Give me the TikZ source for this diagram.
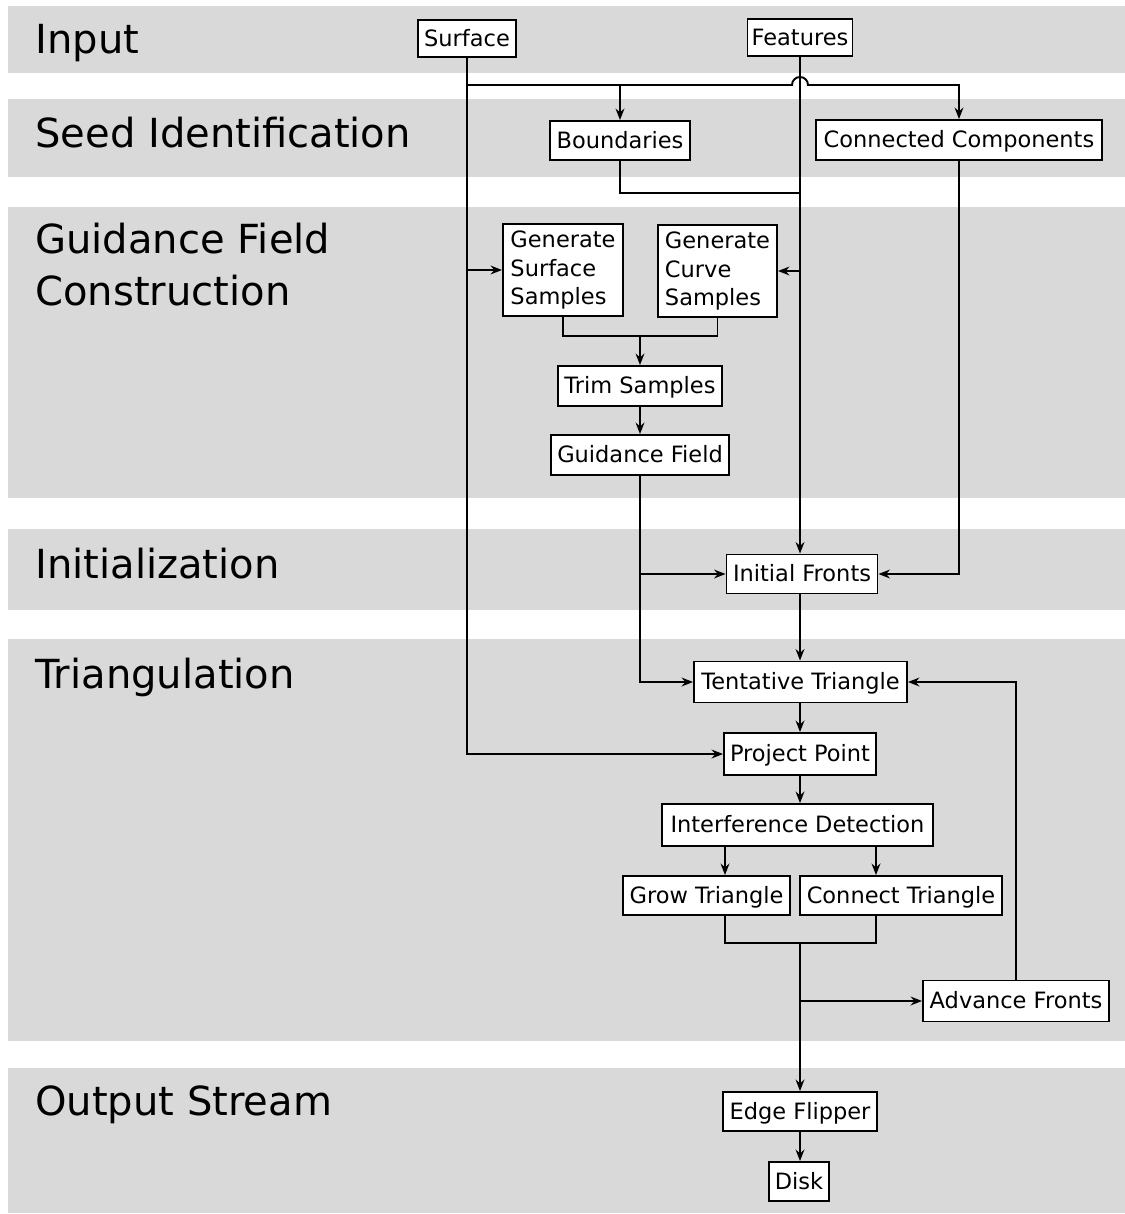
\documentclass[tikz,border=0pt]{standalone}
\usepackage{fontspec}
\setmainfont{DejaVu Sans}
\usetikzlibrary{arrows.meta,calc}
\definecolor{bandgray}{HTML}{D9D9D9}
\begin{document}
\begin{tikzpicture}[x=0.02cm,y=-0.02cm,
  band/.style={fill=bandgray},
  sect/.style={anchor=base west,inner sep=0pt,font=\fontsize{22.8}{28.6}\selectfont,align=left},
  box/.style={draw=black,line width=1.1pt,fill=white,inner sep=0pt,
    font=\fontsize{12.8}{16.2}\selectfont,text height=11pt,text depth=2pt},
  mbox/.style={draw=black,line width=1.1pt,fill=white,inner sep=0pt,
    font=\fontsize{12.8}{16.2}\selectfont,align=left},
  con/.style={line width=1.1pt,draw=black},
  arr/.style={con,-{Stealth[length=6.5pt,width=5pt]}}]
\useasboundingbox (0,0) rectangle (1125,1214);
% bands
\fill[band] (8,6) rectangle (1125,73);
\fill[band] (8,99) rectangle (1125,177);
\fill[band] (8,207) rectangle (1125,498);
\fill[band] (8,529) rectangle (1125,610);
\fill[band] (8,639) rectangle (1125,1041);
\fill[band] (8,1068) rectangle (1125,1213);
% section labels
\node[sect] (lin) at (35,53) {Input};
\node[sect] (lseed) at (35,147) {Seed Identification};
\node[sect] (lgf1) at (35,253) {Guidance Field};
\node[sect] (lgf2) at (35,305) {Construction};
\node[sect] (linit) at (35,578) {Initialization};
\node[sect] (ltri) at (35,688) {Triangulation};
\node[sect] (lout) at (35,1115) {Output Stream};
% boxes
\node[box,minimum width=1.96cm,minimum height=0.74cm] (surface) at (467,38.5) {Surface};
\node[box,minimum width=2.10cm,minimum height=0.74cm] (features) at (800,37.5) {Features};
\node[box,minimum width=2.80cm,minimum height=0.78cm] (bound) at (620,140.5) {Boundaries};
\node[box,minimum width=5.72cm,minimum height=0.80cm] (cc) at (959,140) {Connected Components};
\node[mbox,minimum width=2.40cm,minimum height=1.84cm] (gss) at (563,270) {Generate\\Surface\\Samples};
\node[mbox,minimum width=2.38cm,minimum height=1.84cm] (gcs) at (717.5,271) {Generate\\Curve\\Samples};
\node[box,minimum width=3.28cm,minimum height=0.80cm] (trim) at (640,386) {Trim Samples};
\node[box,minimum width=3.56cm,minimum height=0.80cm] (gf) at (640,455) {Guidance Field};
\node[box,minimum width=3.02cm,minimum height=0.78cm] (initf) at (802,574) {Initial Fronts};
\node[box,minimum width=4.26cm,minimum height=0.82cm] (tent) at (800.5,682) {Tentative Triangle};
\node[box,minimum width=3.04cm,minimum height=0.84cm] (proj) at (800,754) {Project Point};
\node[box,minimum width=5.42cm,minimum height=0.84cm] (interf) at (797.5,825) {Interference Detection};
\node[box,minimum width=3.34cm,minimum height=0.78cm] (grow) at (706.5,895.5) {Grow Triangle};
\node[box,minimum width=4.04cm,minimum height=0.78cm] (conn) at (901,895.5) {Connect Triangle};
\node[box,minimum width=3.72cm,minimum height=0.82cm] (adv) at (1016,1001) {Advance Fronts};
\node[box,minimum width=3.08cm,minimum height=0.78cm] (edge) at (800,1111.5) {Edge Flipper};
\node[box,minimum width=1.20cm,minimum height=0.78cm] (disk) at (799,1181.5) {Disk};
% helper coordinates
\coordinate (j1) at (467,85);
\coordinate (hop) at (features.south |- j1);
\coordinate (m1) at (640,336);
\coordinate (gx) at (725,0);
\coordinate (cx) at (876,0);
\coordinate (m2) at (800,943);
% connectors
\draw[arr] (surface.south) |- (proj.west);
\draw[arr] (surface.south |- gss.west) -- (gss.west);
\draw[arr] (j1) -- ($(hop)+(-8,0)$) arc[start angle=180,end angle=0,radius=0.16cm] -- (cc.north |- j1) -- (cc.north);
\draw[arr] (bound.north |- j1) -- (bound.north);
\draw[arr] (features.south) -- (features.south |- initf.north);
\draw[arr] (features.south |- gcs.east) -- (gcs.east);
\draw[con] (bound.south) -- ++(0,32) -| (features.south |- bound.south);
\draw[con] (gss.south) -- (gss.south |- m1) -| (gcs.south);
\draw[arr] (m1) -- (trim.north);
\draw[arr] (trim) -- (gf);
\draw[arr] (gf.south) |- (tent.west);
\draw[arr] (gf.south |- initf.west) -- (initf.west);
\draw[arr] (cc.south) |- (initf.east);
\draw[arr] (features.south |- initf.south) -- (features.south |- tent.north);
\draw[arr] (features.south |- tent.south) -- (features.south |- proj.north);
\draw[arr] (features.south |- proj.south) -- (features.south |- interf.north);
\draw[arr] (interf.south -| gx) -- (grow.north -| gx);
\draw[arr] (interf.south -| cx) -- (conn.north -| cx);
\draw[con] (grow.south -| gx) -- (m2 -| gx) -- (m2 -| cx) -- (conn.south -| cx);
\draw[arr] (m2) -- (m2 |- edge.north);
\draw[arr] (m2 |- adv.west) -- (adv.west);
\draw[arr] (adv.north) |- (tent.east);
\draw[arr] (m2 |- edge.south) -- (m2 |- disk.north);
\end{tikzpicture}
\end{document}
